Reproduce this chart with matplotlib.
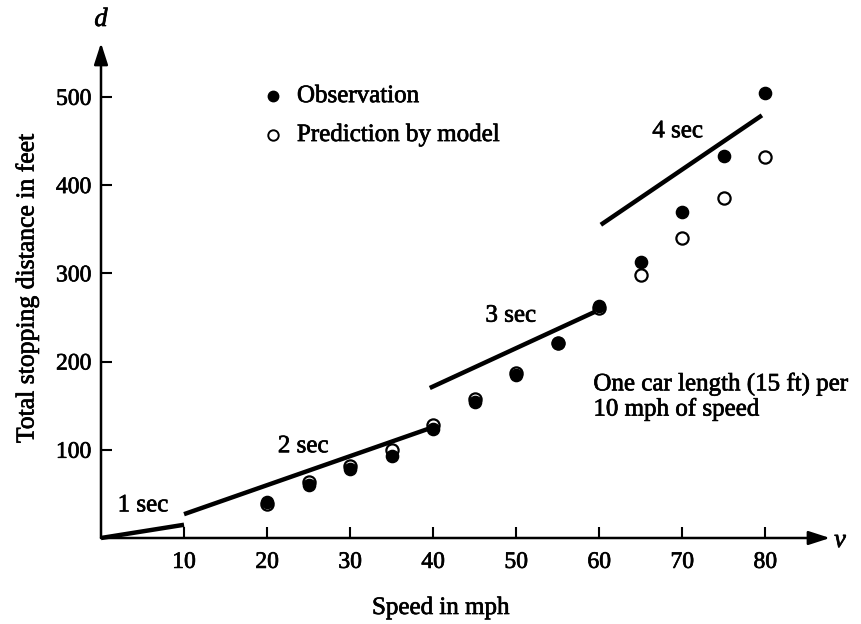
import matplotlib
matplotlib.use("Agg")
import matplotlib.pyplot as plt
import matplotlib.patheffects as pe

speed = [20, 25, 30, 35, 40, 45, 50, 55, 60, 65, 70, 75, 80]
observed = [41, 60, 78, 93, 124, 154, 185, 221, 263, 313, 369, 433, 504]
predicted = [38, 63, 82, 100, 128, 158, 187, 221, 261, 298, 340, 385, 432]

rule_labels = ["1 sec", "2 sec", "3 sec", "4 sec"]
rule_x = [[0, 10], [10, 39.5], [39.6, 60.1], [60.2, 79.6]]
rule_y = [[0, 15], [27, 124], [170, 259], [355, 479]]
rule_label_pos = [(2.0, 37), (21.3, 104), (46.3, 252), (66.4, 461)]

xticks = [10, 20, 30, 40, 50, 60, 70, 80]
yticks = [100, 200, 300, 400, 500]

plt.rcParams['font.family'] = ['Liberation Serif', 'DejaVu Serif']
heavy = [pe.withStroke(linewidth=0.5, foreground='black')]

fig = plt.figure(figsize=(8.62, 6.24), dpi=100)
ax = fig.add_axes([0.11717, 0.13782, 0.84571, 0.79327])
ax.set_xlim(0, 87.8)
ax.set_ylim(0, 561)
for s in ax.spines.values():
    s.set_visible(False)

# axes with arrows
arrow_style = "-|>,head_length=1.3,head_width=0.42"
ax.annotate("", xy=(87.8, 0), xytext=(0, 0), xycoords='data',
            arrowprops=dict(arrowstyle=arrow_style, lw=1.8, color='black',
                            shrinkA=0, shrinkB=0), annotation_clip=False)
ax.annotate("", xy=(0, 561), xytext=(0, 0), xycoords='data',
            arrowprops=dict(arrowstyle=arrow_style, lw=1.8, color='black',
                            shrinkA=0, shrinkB=0), annotation_clip=False)

ax.set_xticks(xticks)
ax.set_yticks(yticks)
ax.set_xticklabels([str(t) for t in xticks])
ax.set_yticklabels([str(t) for t in yticks])
ax.tick_params(axis='both', direction='in', length=8, width=1.5, labelsize=17)
ax.tick_params(axis='x', pad=10)
ax.tick_params(axis='y', pad=7)
for lab in ax.get_xticklabels() + ax.get_yticklabels():
    lab.set_path_effects(heavy)

# rule segments
for xs, ys in zip(rule_x, rule_y):
    ax.plot(xs, ys, color='black', lw=3.2, solid_capstyle='butt', clip_on=False)
for lab, (tx, ty) in zip(rule_labels, rule_label_pos):
    ax.text(tx, ty, lab, fontsize=18, ha='left', va='center', path_effects=heavy)

# points
ax.plot(speed, predicted, linestyle='none', marker='o', markersize=8.8,
        markerfacecolor='white', markeredgecolor='black', markeredgewidth=1.6, zorder=3)
ax.plot(speed, observed, linestyle='none', marker='o', markersize=8.8,
        markerfacecolor='black', markeredgecolor='black', zorder=4)

# legend (manual)
ax.plot([20.7], [500.8], linestyle='none', marker='o', markersize=7.5,
        markerfacecolor='black', markeredgecolor='black')
ax.plot([20.7], [456.7], linestyle='none', marker='o', markersize=7.5,
        markerfacecolor='white', markeredgecolor='black', markeredgewidth=1.4)
ax.text(23.6, 500.8, "Observation", fontsize=18, ha='left', va='center', path_effects=heavy)
ax.text(23.6, 456.7, "Prediction by model", fontsize=18, ha='left', va='center',
        path_effects=heavy)

ax.text(59.3, 160.4, "One car length (15 ft) per\n10 mph of speed", fontsize=18,
        ha='left', va='center', linespacing=1.1, path_effects=heavy)

# axis names
fig.text(101 / 862, 1 - 20 / 624, "d", fontsize=19, style='italic', ha='center', va='center',
         path_effects=heavy)
fig.text(840 / 862, 1 - 541 / 624, "v", fontsize=19, style='italic', ha='center', va='center',
         path_effects=heavy)
fig.text(441 / 862, 1 - 608 / 624, "Speed in mph", fontsize=18, ha='center', va='center',
         path_effects=heavy)
fig.text(27 / 862, 1 - 288 / 624, "Total stopping distance in feet", fontsize=18.5,
         ha='center', va='center', rotation=90, path_effects=heavy)

fig.savefig("out.png", dpi=100)
